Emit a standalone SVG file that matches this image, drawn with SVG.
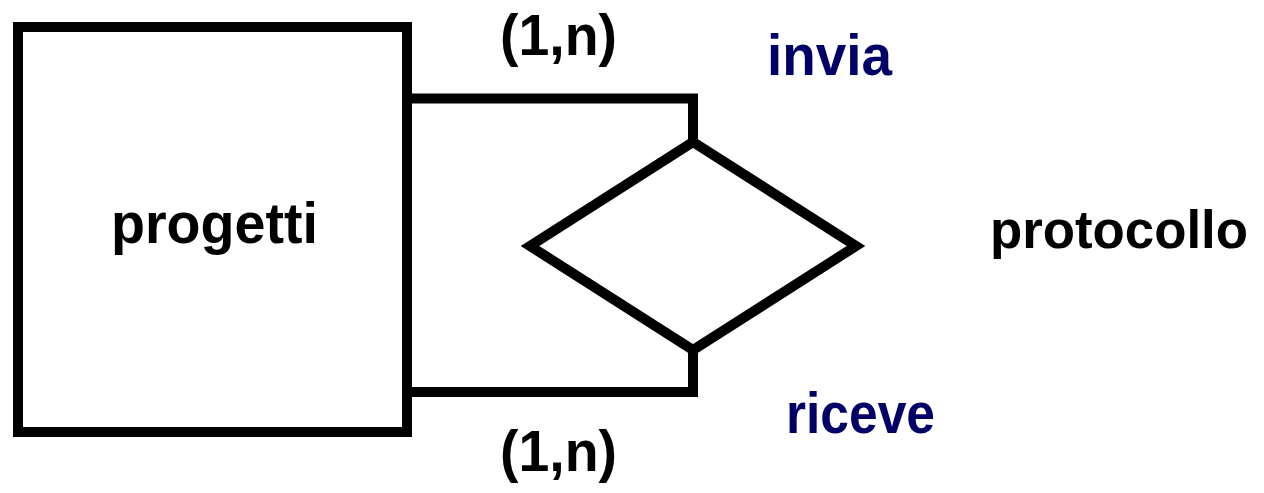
<svg xmlns="http://www.w3.org/2000/svg" width="1264" height="493" viewBox="0 0 1264 493">
<style>
.shape{fill:#fff;stroke:#000;stroke-width:10;stroke-linejoin:miter}
.conn{fill:none;stroke:#000;stroke-width:10;stroke-linejoin:miter;stroke-linecap:butt}
.t{font-family:"Liberation Sans",Arial,sans-serif;font-weight:bold;font-size:57px;fill:#000}
.rel{fill:#000066}
</style>
<rect width="1264" height="493" fill="#fff"/>
<g id="connectors">
<polyline class="conn" points="407,98.5 693,98.5 693,141"/>
<polyline class="conn" points="407,392 693,392 693,352"/>
</g>
<g id="progetti">
<rect class="shape" x="18" y="27" width="389" height="405"/>
<text class="t" x="111" y="243" textLength="207" lengthAdjust="spacingAndGlyphs">progetti</text>
</g>
<g id="protocollo">
<polygon class="shape" points="693,142 856,246 693,350 530,246"/>
<text class="t" x="990" y="248" style="font-size:54px" textLength="258" lengthAdjust="spacingAndGlyphs">protocollo</text>
</g>
<g id="labels">
<text class="t" x="500" y="55" textLength="117" lengthAdjust="spacingAndGlyphs">(1,n)</text>
<text class="t" x="500" y="471" textLength="117" lengthAdjust="spacingAndGlyphs">(1,n)</text>
<text class="t rel" x="767" y="75" textLength="125" lengthAdjust="spacingAndGlyphs">invia</text>
<text class="t rel" x="786" y="433" textLength="149" lengthAdjust="spacingAndGlyphs">riceve</text>
</g>
</svg>
